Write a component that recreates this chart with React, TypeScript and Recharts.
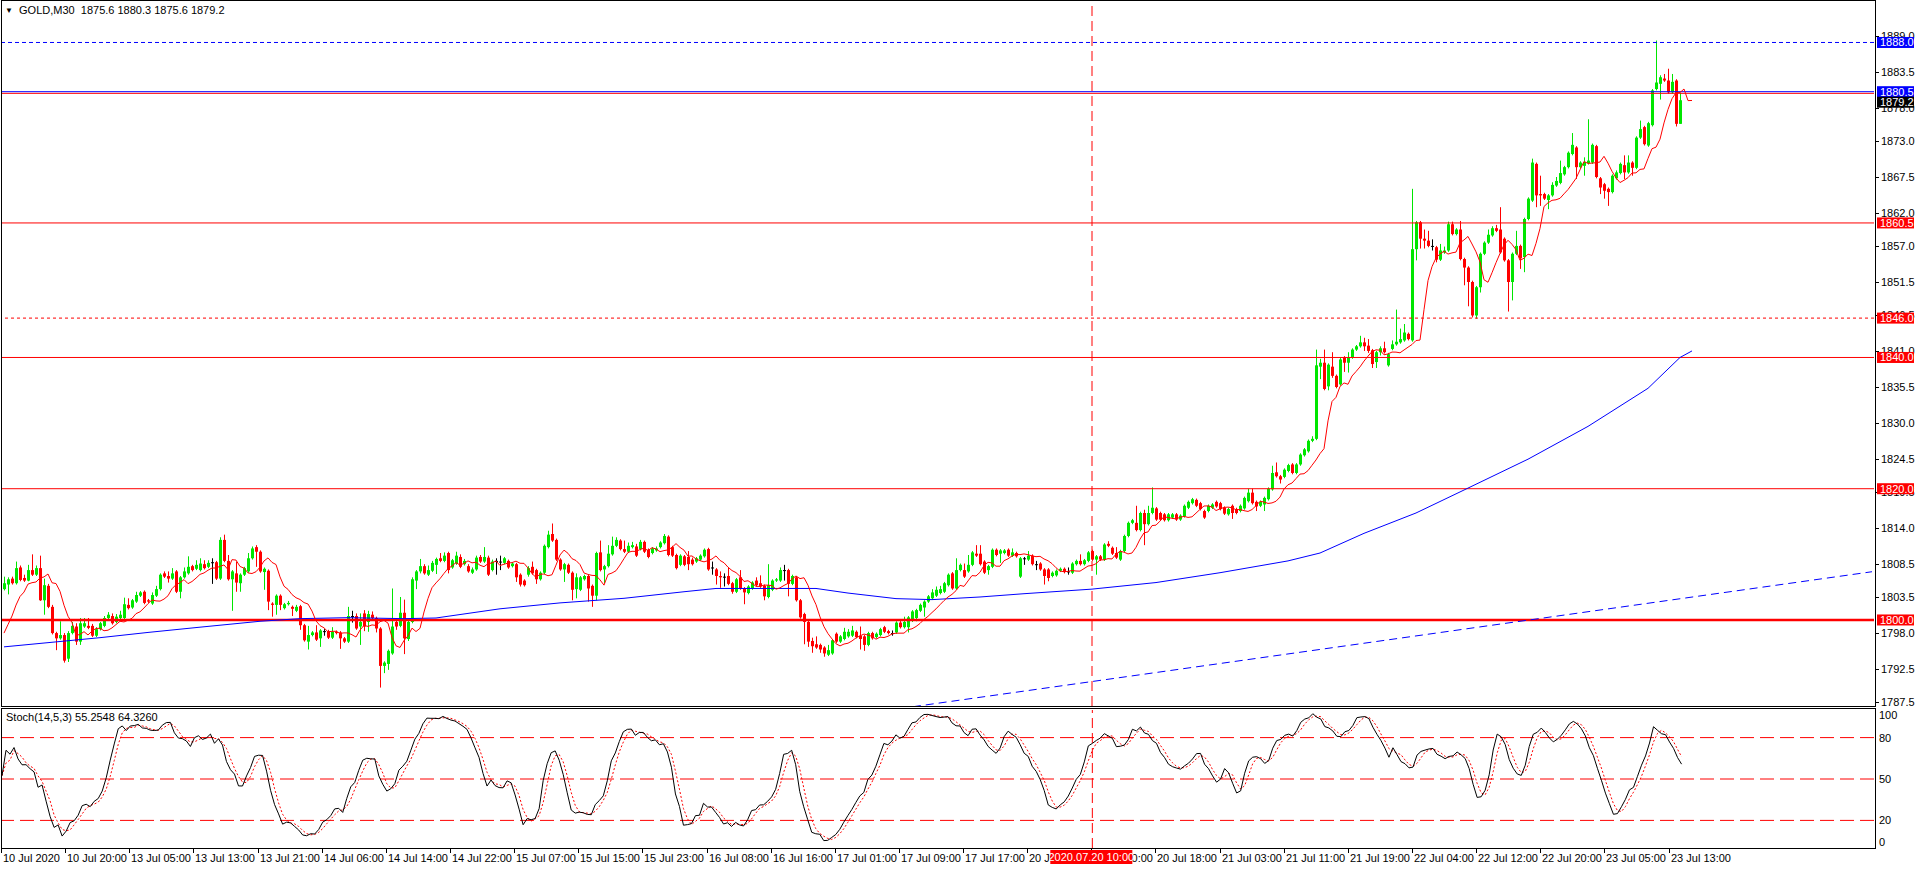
import React from 'react';
import { ComposedChart, Bar, Line, XAxis, YAxis, ReferenceLine } from 'recharts';

type C = [number, number, number, number]; // open, high, low, close

const jul10: C[] = [
  [1804.7,1806.6,1804.5,1805.6],[1805.4,1806.5,1803.9,1806.2],[1806.3,1806.6,1805.4,1805.6],[1805.6,1808.9,1805.4,1807.9],
  [1808.0,1808.3,1805.9,1806.1],[1806.4,1806.9,1805.8,1806.0],[1806.0,1808.4,1805.9,1807.6],[1807.6,1810.0,1806.7,1806.9],
  [1806.9,1808.3,1806.7,1807.9],[1807.9,1809.8,1802.9,1803.0],[1803.0,1806.3,1800.8,1805.3],[1805.2,1805.5,1801.8,1802.0],
  [1802.0,1802.3,1797.8,1798.0],[1798.0,1798.2,1795.4,1797.2],[1797.2,1799.8,1797.0,1797.7],[1797.7,1798.0,1793.5,1793.8],
  [1794.1,1798.3,1793.6,1798.0],[1798.0,1799.7,1797.8,1799.1],[1799.0,1799.5,1796.2,1796.7],[1796.7,1800.3,1796.2,1799.5],
  [1799.0,1800.3,1798.8,1799.5],[1799.1,1800.3,1798.6,1798.8],[1799.1,1799.4,1797.4,1797.6],[1797.6,1798.9,1797.4,1798.6],
];
const jul13: C[] = [
  [1798.6,1799.7,1798.4,1799.5],[1799.1,1800.6,1798.9,1800.3],[1800.3,1801.2,1800.1,1800.8],[1800.6,1801.0,1799.3,1799.5],
  [1799.7,1800.9,1799.5,1800.5],[1800.3,1801.4,1800.1,1800.8],[1800.3,1803.4,1800.1,1802.4],[1802.3,1803.3,1801.6,1801.8],
  [1801.9,1803.2,1801.7,1803.0],[1802.8,1804.3,1802.6,1803.8],[1803.7,1804.4,1803.5,1804.2],[1804.3,1804.5,1802.4,1802.6],
  [1803.0,1803.2,1802.6,1802.8],[1802.5,1804.2,1802.3,1803.8],[1803.7,1805.2,1803.5,1804.7],[1804.7,1807.1,1804.5,1806.9],
  [1807.1,1807.4,1806.4,1806.6],[1806.7,1807.4,1805.7,1806.3],[1806.3,1807.9,1806.1,1807.1],[1807.4,1807.6,1804.1,1804.3],
  [1804.3,1806.7,1803.3,1806.5],[1806.5,1808.0,1806.3,1807.4],[1807.1,1809.7,1806.9,1808.1],[1808.2,1808.4,1807.4,1807.6],
  [1807.8,1809.1,1807.6,1808.4],[1807.6,1809.4,1807.4,1808.6],[1808.5,1809.1,1807.7,1807.9],[1808.1,1809.1,1807.9,1808.7],
  [1808.8,1809.4,1805.5,1808.8],[1808.8,1809.0,1806.1,1806.3],[1806.3,1812.6,1806.1,1812.2],[1812.2,1813.0,1808.8,1809.0],
  [1809.0,1809.9,1806.0,1806.2],[1806.2,1807.6,1801.4,1807.4],[1807.1,1808.9,1804.3,1805.7],[1805.6,1807.1,1804.3,1806.9],
  [1806.9,1808.1,1806.7,1807.9],[1807.4,1810.2,1807.2,1809.4],[1809.4,1811.2,1809.2,1810.9],[1811.1,1811.4,1808.1,1810.4],
  [1810.4,1810.6,1807.2,1807.4],[1807.3,1808.0,1804.6,1807.8],[1807.5,1807.7,1801.5,1802.8],[1802.5,1802.7,1800.5,1802.3],
  [1802.3,1803.9,1800.8,1803.7],[1803.7,1803.9,1801.5,1802.3],
];
const jul14: C[] = [
  [1801.8,1802.6,1801.6,1802.4],[1802.4,1802.9,1802.2,1802.6],[1802.0,1802.2,1800.6,1801.7],[1801.4,1802.3,1801.2,1802.0],
  [1802.1,1802.3,1798.5,1799.2],[1799.2,1799.4,1796.7,1796.9],[1796.7,1799.1,1795.5,1797.7],[1797.7,1798.3,1797.5,1798.1],
  [1798.1,1799.2,1796.8,1797.0],[1797.2,1798.6,1795.9,1798.4],[1798.3,1798.6,1797.6,1798.3],[1798.3,1798.5,1797.1,1797.3],
  [1797.3,1798.9,1797.1,1798.2],[1798.2,1798.4,1797.8,1798.0],[1798.1,1798.3,1795.6,1797.2],[1797.2,1797.4,1796.5,1796.7],
  [1796.7,1802.0,1796.5,1800.6],[1800.6,1801.4,1799.6,1800.6],[1800.6,1801.0,1798.5,1798.7],[1799.0,1801.0,1796.2,1799.7],
  [1801.0,1801.5,1798.3,1799.0],[1799.7,1801.4,1798.2,1800.9],[1800.8,1801.3,1800.0,1800.3],[1800.3,1800.5,1798.1,1798.7],
  [1798.7,1798.9,1789.7,1793.0],[1793.0,1793.7,1791.9,1793.5],[1793.3,1795.5,1792.4,1795.3],[1794.9,1804.8,1794.7,1799.0],
  [1799.7,1800.2,1798.5,1799.0],[1799.1,1803.5,1798.9,1801.1],[1801.1,1803.1,1794.8,1797.2],[1797.1,1800.0,1796.8,1799.7],
  [1799.7,1806.5,1799.5,1806.2],[1806.0,1807.6,1804.7,1807.4],[1807.4,1809.3,1807.1,1808.2],[1808.2,1808.5,1806.9,1807.1],
  [1806.9,1808.3,1806.7,1807.6],[1807.5,1809.0,1807.3,1808.7],[1808.4,1809.5,1807.0,1809.3],[1809.4,1810.2,1808.8,1809.0],
  [1809.0,1810.3,1808.8,1809.8],[1810.2,1810.4,1807.1,1807.6],[1808.0,1809.3,1807.8,1809.1],[1808.6,1810.4,1808.4,1809.8],
  [1809.6,1810.0,1807.9,1808.1],[1808.5,1809.3,1808.3,1809.0],
];
const jul15: C[] = [
  [1808.2,1808.5,1807.2,1807.4],[1807.2,1808.0,1807.0,1807.7],[1807.7,1809.8,1807.5,1809.5],[1809.6,1809.9,1808.7,1808.9],
  [1808.9,1811.1,1808.7,1809.6],[1809.5,1809.8,1806.7,1806.9],[1807.6,1809.2,1807.4,1808.9],[1809.0,1809.4,1806.9,1809.0],
  [1808.9,1809.8,1807.6,1808.9],[1808.7,1809.6,1808.5,1809.4],[1809.0,1809.2,1807.8,1808.0],[1808.2,1808.8,1808.0,1808.6],
  [1808.5,1808.7,1805.8,1806.5],[1806.9,1807.1,1805.1,1805.4],[1806.0,1806.2,1805.1,1805.3],[1806.9,1808.2,1806.6,1807.9],
  [1808.1,1808.9,1806.9,1807.1],[1807.6,1807.8,1805.5,1806.2],[1806.2,1807.4,1806.0,1807.2],[1807.2,1811.5,1807.0,1811.3],
  [1811.1,1813.6,1810.9,1813.0],[1813.1,1814.7,1811.9,1812.1],[1812.2,1812.4,1809.0,1809.2],[1809.2,1809.4,1807.5,1807.7],
  [1807.7,1808.7,1805.8,1808.5],[1808.4,1808.6,1807.0,1807.2],[1807.2,1807.4,1803.0,1804.6],[1804.7,1807.1,1803.3,1806.5],
  [1804.6,1806.7,1804.4,1806.5],[1806.2,1806.9,1806.0,1806.7],[1806.7,1806.9,1802.8,1804.8],[1805.2,1805.4,1802.0,1803.7],
  [1803.7,1810.4,1803.0,1810.2],[1810.3,1812.1,1807.4,1807.6],[1807.7,1808.4,1805.6,1808.2],[1808.2,1811.4,1808.0,1810.1],
  [1810.0,1812.7,1809.8,1811.3],[1811.3,1812.6,1811.1,1812.2],[1812.1,1812.3,1810.6,1810.8],[1810.8,1812.1,1810.2,1810.4],
  [1810.4,1811.8,1810.2,1811.3],[1811.1,1811.9,1810.9,1811.4],[1811.2,1811.6,1809.6,1809.8],[1810.8,1812.2,1810.6,1811.9],
  [1811.9,1812.1,1810.2,1810.4],[1810.7,1810.9,1809.4,1809.6],
];
const jul16: C[] = [
  [1810.2,1811.1,1810.0,1810.9],[1810.6,1811.2,1810.4,1810.9],[1811.1,1812.0,1810.9,1811.8],[1811.7,1813.1,1811.5,1812.8],
  [1812.7,1812.9,1809.7,1809.9],[1811.1,1811.3,1809.6,1809.8],[1809.9,1810.1,1807.7,1807.9],[1808.4,1810.0,1808.2,1809.8],
  [1809.7,1809.9,1808.2,1808.4],[1809.6,1810.5,1807.6,1808.5],[1809.2,1809.5,1808.3,1808.5],[1808.9,1809.6,1808.7,1809.4],
  [1809.2,1810.0,1809.0,1809.8],[1809.7,1810.9,1809.5,1810.7],[1810.8,1811.0,1807.5,1807.7],[1808.0,1808.9,1806.9,1808.0],
  [1807.7,1807.9,1805.4,1806.7],[1806.7,1807.4,1804.9,1806.5],[1806.6,1807.1,1805.1,1806.6],[1806.7,1808.0,1805.3,1805.5],
  [1805.6,1805.8,1804.0,1804.3],[1804.3,1806.4,1804.1,1806.2],[1806.5,1807.6,1804.6,1804.8],[1804.8,1805.0,1802.4,1804.2],
  [1804.1,1805.3,1803.9,1805.1],[1804.8,1805.9,1804.6,1805.7],[1806.0,1806.5,1805.1,1805.3],[1805.6,1806.8,1804.9,1805.1],
  [1805.2,1805.4,1803.0,1803.6],[1803.5,1808.5,1803.3,1805.3],[1804.6,1806.2,1804.4,1806.0],[1806.0,1806.4,1805.8,1806.2],
  [1806.0,1808.0,1805.8,1807.6],[1807.6,1808.4,1806.0,1807.6],[1807.6,1807.8,1803.6,1805.5],[1805.5,1806.9,1805.3,1806.7],
  [1806.5,1806.7,1802.8,1803.0],[1803.0,1803.2,1800.2,1800.4],[1800.9,1801.1,1796.3,1799.7],[1799.7,1799.9,1795.9,1796.7],
  [1796.8,1797.3,1795.0,1796.0],[1796.3,1797.5,1795.6,1795.8],[1796.2,1796.4,1795.0,1795.5],[1795.8,1796.0,1794.4,1794.9],
  [1794.7,1796.2,1794.5,1795.4],[1794.9,1797.1,1794.7,1796.9],
];
const jul17: C[] = [
  [1797.9,1798.1,1796.5,1796.7],[1796.7,1797.7,1796.5,1797.5],[1797.1,1798.8,1796.9,1798.2],[1797.5,1798.6,1797.3,1798.2],
  [1797.6,1799.1,1797.4,1798.4],[1798.2,1798.4,1797.2,1797.4],[1797.6,1799.0,1795.5,1797.1],[1797.5,1797.7,1795.3,1796.2],
  [1796.2,1798.2,1796.0,1798.0],[1798.0,1798.2,1797.0,1797.2],[1797.4,1798.1,1797.2,1797.9],[1797.7,1798.8,1797.5,1798.6],
  [1798.9,1799.1,1798.0,1798.2],[1798.3,1798.5,1797.8,1798.0],[1798.0,1798.4,1797.6,1798.0],[1798.1,1799.8,1797.9,1799.6],
  [1799.6,1799.9,1798.7,1798.9],[1798.9,1800.5,1798.7,1799.7],[1798.9,1800.6,1798.1,1800.4],[1799.9,1801.5,1799.7,1801.3],
  [1800.3,1801.7,1799.8,1801.5],[1801.4,1802.5,1801.2,1802.3],[1801.9,1803.0,1800.5,1802.8],[1802.8,1803.8,1802.6,1803.6],
  [1803.3,1804.7,1803.1,1804.2],[1803.7,1805.1,1803.5,1804.6],[1804.1,1805.2,1803.9,1804.7],[1804.3,1805.8,1804.1,1805.6],
  [1805.3,1807.1,1805.1,1806.9],[1807.1,1807.3,1804.6,1804.8],[1804.8,1809.4,1804.6,1807.6],[1807.6,1808.6,1807.4,1808.4],
  [1807.6,1808.6,1806.4,1806.6],[1807.4,1809.9,1807.2,1808.4],[1808.4,1810.5,1808.2,1810.3],[1810.1,1811.4,1809.6,1809.8],
  [1810.1,1811.4,1808.3,1808.5],[1808.9,1809.1,1807.0,1807.2],[1807.6,1808.4,1806.9,1808.2],[1808.1,1810.9,1807.9,1810.7],
  [1810.7,1810.9,1809.7,1809.9],[1810.1,1810.8,1808.7,1810.6],[1810.2,1810.8,1810.0,1810.6],[1810.7,1810.9,1809.6,1809.8],
  [1809.8,1810.9,1809.6,1810.3],[1810.2,1810.4,1809.5,1809.7],
];
const jul20: C[] = [
  [1806.6,1809.6,1806.4,1809.4],[1809.4,1809.6,1808.4,1809.4],[1809.2,1810.5,1809.0,1809.8],[1809.8,1810.0,1808.3,1808.5],
  [1808.5,1809.0,1807.6,1808.5],[1808.6,1808.8,1807.5,1807.7],[1807.7,1807.9,1805.4,1806.7],[1807.7,1807.9,1805.9,1806.4],
  [1806.7,1807.4,1806.5,1807.2],[1806.8,1807.7,1806.6,1807.5],[1807.5,1808.0,1807.3,1807.8],[1807.8,1808.0,1807.1,1807.3],
  [1807.4,1808.0,1806.9,1807.4],[1807.2,1808.8,1807.0,1808.6],[1808.5,1809.2,1808.3,1809.0],[1809.0,1810.0,1808.3,1808.5],
  [1808.5,1809.3,1808.3,1809.1],[1809.0,1810.5,1808.8,1810.3],[1810.5,1810.7,1809.0,1809.2],[1809.2,1809.9,1806.9,1809.7],
  [1809.7,1809.9,1809.0,1809.2],[1809.2,1811.7,1809.0,1811.5],[1811.6,1812.0,1811.1,1811.3],[1811.0,1811.2,1809.9,1810.1],
  [1810.2,1811.1,1809.3,1809.5],[1809.2,1810.7,1809.0,1810.5],[1810.5,1813.0,1810.3,1812.8],[1812.8,1815.0,1812.6,1814.8],
  [1814.8,1815.4,1814.6,1815.2],[1814.8,1817.4,1813.5,1813.7],[1813.7,1816.5,1813.5,1816.3],[1816.3,1816.8,1811.4,1814.6],
  [1814.6,1817.4,1814.4,1816.3],[1816.3,1820.2,1816.1,1817.1],[1817.0,1817.2,1815.1,1815.3],[1816.3,1816.5,1815.1,1815.3],
  [1816.1,1816.3,1815.0,1815.2],[1815.2,1816.3,1815.0,1816.1],[1815.6,1816.3,1815.4,1816.1],[1816.1,1816.3,1815.1,1815.3],
  [1815.3,1816.1,1815.1,1815.9],[1815.8,1817.6,1815.6,1817.4],[1817.1,1818.2,1816.9,1818.0],[1817.8,1818.6,1817.6,1818.4],
  [1818.3,1818.5,1817.2,1817.4],[1817.8,1818.0,1816.7,1816.9],
];
const jul21: C[] = [
  [1816.6,1816.8,1815.4,1815.6],[1816.6,1817.6,1816.4,1817.4],[1817.1,1817.8,1816.9,1817.6],[1818.0,1818.2,1817.1,1817.3],
  [1817.8,1818.0,1816.7,1816.9],[1817.1,1817.3,1816.0,1816.2],[1816.1,1817.1,1815.9,1816.9],[1817.4,1817.6,1815.4,1816.3],
  [1816.9,1817.1,1816.1,1816.3],[1816.6,1817.6,1816.4,1817.4],[1817.0,1818.8,1816.8,1818.6],[1818.1,1820.0,1817.9,1819.4],
  [1819.4,1820.0,1817.6,1817.8],[1818.0,1818.2,1816.6,1817.3],[1817.4,1818.2,1817.2,1818.0],[1817.6,1818.8,1816.6,1818.6],
  [1818.4,1820.2,1818.2,1820.0],[1819.9,1823.5,1819.7,1822.4],[1822.5,1824.0,1821.7,1821.9],[1821.9,1822.1,1820.8,1821.4],
  [1821.8,1823.1,1821.6,1822.9],[1822.7,1823.8,1822.5,1823.6],[1823.7,1823.9,1822.2,1822.4],[1822.4,1823.9,1822.2,1823.7],
  [1823.7,1825.4,1823.5,1825.2],[1825.1,1826.2,1824.9,1826.0],[1825.7,1827.5,1825.5,1827.3],[1827.3,1828.0,1827.1,1827.6],
  [1827.6,1841.2,1827.4,1838.8],[1838.6,1839.8,1836.7,1839.2],[1839.2,1841.2,1835.0,1835.2],[1835.6,1839.1,1835.0,1838.9],
  [1838.6,1840.8,1836.9,1837.2],[1837.2,1837.4,1835.3,1835.5],[1835.9,1840.0,1835.7,1839.7],[1840.0,1840.2,1837.8,1839.2],
  [1839.2,1840.8,1837.7,1840.0],[1840.0,1841.4,1839.8,1841.2],[1841.2,1841.9,1841.0,1841.7],[1841.7,1843.3,1841.5,1842.3],
  [1842.3,1843.0,1841.0,1841.7],[1841.8,1842.8,1840.7,1841.0],[1841.1,1841.3,1838.4,1839.0],[1839.3,1841.0,1838.4,1840.8],
  [1840.8,1841.7,1840.3,1841.4],[1841.4,1842.4,1840.6,1840.8],
];
const jul22: C[] = [
  [1838.8,1840.7,1838.6,1840.5],[1841.3,1842.6,1841.1,1842.0],[1842.0,1847.3,1841.8,1842.4],[1842.3,1844.4,1842.1,1842.8],
  [1842.6,1845.1,1842.4,1843.8],[1843.6,1843.8,1842.6,1842.8],[1842.6,1865.7,1842.4,1856.5],[1856.5,1860.8,1854.8,1860.6],
  [1860.6,1860.8,1856.6,1858.1],[1858.1,1859.5,1856.6,1857.8],[1857.8,1859.3,1856.8,1857.0],[1857.0,1858.0,1856.3,1857.0],
  [1856.8,1857.0,1854.5,1854.9],[1854.9,1857.3,1854.7,1856.3],[1856.0,1856.9,1855.8,1856.3],[1856.3,1860.7,1856.1,1860.3],
  [1860.3,1860.7,1858.6,1858.8],[1858.8,1859.7,1858.6,1859.5],[1859.5,1860.8,1854.8,1855.0],[1855.0,1855.2,1851.0,1853.7],
  [1853.7,1853.9,1847.8,1851.5],[1851.5,1851.7,1846.1,1846.4],[1846.4,1850.9,1845.9,1850.7],[1850.7,1856.0,1849.9,1855.8],
  [1855.8,1857.7,1855.6,1857.5],[1857.5,1859.5,1857.3,1858.7],[1858.6,1860.0,1858.4,1859.7],[1859.7,1860.2,1859.1,1859.3],
  [1859.5,1862.9,1855.8,1856.0],[1858.1,1858.3,1854.6,1854.8],[1854.8,1855.0,1847.0,1851.5],[1851.5,1856.0,1848.7,1855.8],
  [1855.8,1859.3,1855.6,1857.0],[1857.0,1857.2,1853.5,1855.1],[1855.3,1861.3,1853.0,1861.1],[1861.1,1864.4,1860.9,1864.2],
  [1863.9,1870.3,1863.7,1869.7],[1869.5,1869.7,1862.9,1864.7],[1864.9,1867.7,1863.1,1864.7],[1864.9,1865.1,1864.0,1864.2],
  [1864.0,1864.9,1862.6,1864.7],[1864.7,1866.7,1864.5,1866.3],[1866.2,1867.5,1866.0,1866.9],[1866.6,1870.0,1866.4,1868.1],
  [1867.9,1869.2,1867.7,1869.0],[1869.0,1871.4,1868.8,1871.2],
];
const jul23: C[] = [
  [1871.0,1874.2,1870.8,1872.4],[1872.0,1872.2,1867.2,1869.0],[1869.0,1869.9,1868.8,1869.7],[1869.2,1870.5,1867.7,1869.8],
  [1869.6,1876.3,1869.4,1870.0],[1869.7,1872.6,1869.5,1872.4],[1872.2,1872.4,1867.3,1867.5],[1867.3,1867.5,1864.9,1865.9],
  [1866.4,1866.6,1864.2,1865.4],[1865.7,1865.9,1863.1,1865.2],[1865.2,1867.9,1865.0,1867.7],[1867.3,1868.5,1867.1,1868.2],
  [1868.1,1869.7,1867.9,1869.5],[1869.3,1870.8,1867.2,1868.2],[1868.2,1870.8,1868.0,1869.7],[1869.7,1869.9,1867.7,1868.9],
  [1868.9,1873.7,1868.7,1873.5],[1873.5,1876.1,1873.3,1874.8],[1875.1,1875.3,1872.3,1872.5],[1872.3,1875.9,1872.1,1875.7],
  [1875.4,1880.9,1875.2,1880.7],[1880.9,1888.3,1880.7,1881.9],[1881.7,1883.0,1879.3,1882.7],[1882.5,1883.2,1882.0,1882.2],
  [1882.2,1884.0,1880.2,1880.4],[1880.4,1883.2,1880.2,1882.0],[1882.2,1882.4,1875.2,1875.6],[1875.6,1880.3,1875.6,1879.2],
];

// slow blue moving average: [bar index, price]
const blueMa: [number, number][] = [
  [0,1795.9],[12,1796.6],[24,1797.3],[36,1798.1],[49,1798.9],[64,1799.8],[74,1800.2],[86,1800.35],[100,1800.2],
  [108,1800.3],[124,1801.7],[139,1802.6],[155,1803.3],[170,1804.3],[178,1804.8],[203,1804.8],[211,1804.1],
  [223,1803.25],[232,1803.1],[244,1803.5],[255,1804.0],[272,1804.7],[288,1805.7],[304,1807.2],[321,1809.0],
  [329,1810.2],[340,1813.2],[353,1816.3],[365,1819.8],[381,1824.5],[396,1829.5],[411,1835.3],[419,1840.0],[422,1841.0],
];
// red EMA(5) shifted 3 bars: the first three shown values come from history before the chart
const emaSeed = [1798.0, 1799.3, 1800.6];
const emaPeriod = 5;
const emaShift = 3;

const trendLine = [{ i: 224, p: 1786.5 }, { i: 467, p: 1807.35 }];

const priceTicks = [1889.0,1883.5,1878.0,1873.0,1867.5,1862.0,1857.0,1851.5,1846.5,1841.0,1835.5,1830.0,1824.5,1819.5,1814.0,1808.5,1803.5,1798.0,1792.5,1787.5];
const blueSolidLevels = [1880.5];
const blueDashLevels = [1888.0];
const redSolidLevels = [1880.25, 1860.5, 1840.0, 1820.0];
const redDashLevels = [1846.0];
const redThickLevels = [1800.0];
const priceTags: { v: number; color: string }[] = [
  { v: 1888.0, color: '#0000ff' }, { v: 1880.5, color: '#0000ff' }, { v: 1860.5, color: '#ff0000' },
  { v: 1846.0, color: '#ff0000' }, { v: 1840.0, color: '#ff0000' }, { v: 1820.0, color: '#ff0000' },
  { v: 1800.0, color: '#ff0000' }, { v: 1879.2, color: '#000000' },
];
const bidPrice = 1879.2;

const timeLabels = [
  '10 Jul 2020','10 Jul 20:00','13 Jul 05:00','13 Jul 13:00','13 Jul 21:00','14 Jul 06:00','14 Jul 14:00',
  '14 Jul 22:00','15 Jul 07:00','15 Jul 15:00','15 Jul 23:00','16 Jul 08:00','16 Jul 16:00','17 Jul 01:00',
  '17 Jul 09:00','17 Jul 17:00','20 Jul 02:00','20 Jul 10:00','20 Jul 18:00','21 Jul 03:00','21 Jul 11:00',
  '21 Jul 19:00','22 Jul 04:00','22 Jul 12:00','22 Jul 20:00','23 Jul 05:00','23 Jul 13:00',
];
const labelStep = 16;
const cursorBar = 272;
const cursorLabel = '2020.07.20 10:00';
const stochTicks = [0, 20, 50, 80, 100];
const stochLevels = [80, 50, 20];
const SLOTS = 468;

const headerText = 'GOLD,M30  1875.6 1880.3 1875.6 1879.2';
const stochText = 'Stoch(14,5,3) 55.2548 64.3260';

// ---------- derived series ----------
const candles: C[] = [jul10, jul13, jul14, jul15, jul16, jul17, jul20, jul21, jul22, jul23].flat();

const ema: number[] = [];
{
  let prev = emaSeed[emaSeed.length - 1];
  const a = 2 / (emaPeriod + 1);
  for (const c of candles) { prev = prev + a * (c[3] - prev); ema.push(prev); }
}
const kMain: number[] = [];
const kSig: number[] = [];
{
  const nums: number[] = [], dens: number[] = [];
  candles.forEach((c, i) => {
    let ll = Infinity, hh = -Infinity;
    for (let j = Math.max(0, i - 13); j <= i; j++) { ll = Math.min(ll, candles[j][2]); hh = Math.max(hh, candles[j][1]); }
    nums.push(c[3] - ll); dens.push(hh - ll);
    let sn = 0, sd = 0;
    for (let j = Math.max(0, i - 4); j <= i; j++) { sn += nums[j]; sd += dens[j]; }
    kMain.push(sd > 0 ? (100 * sn) / sd : 50);
  });
  kMain.forEach((_, i) => {
    const f = Math.max(0, i - 2);
    let s = 0;
    for (let j = f; j <= i; j++) s += kMain[j];
    kSig.push(s / (i - f + 1));
  });
}

const rows: any[] = Array.from({ length: SLOTS }, (_, i) => {
  const r: any = { i };
  const c = candles[i];
  if (c) {
    r.o = c[0]; r.h = c[1]; r.l = c[2]; r.c = c[3];
    r.range = [c[2], c[1]];
    r.k = kMain[i]; r.d = kSig[i];
  }
  if (i < emaShift) r.ma = emaSeed[i];
  else if (i - emaShift < ema.length) r.ma = ema[i - emaShift];
  return r;
});
blueMa.forEach(([i, v]) => { rows[i].bma = v; });

// ---------- rendering ----------
const FONT = "'Liberation Sans Narrow', 'Liberation Sans', Arial, sans-serif";
const GREEN = '#00e600';
const RED = '#ff0000';
const AXIS_X = 1875;
const W = 1916;

const Candle = (props: any) => {
  const { x, width, payload } = props;
  let { y, height } = props;
  if (!payload || payload.o == null || y == null || isNaN(y)) return <g />;
  if (height < 0) { y += height; height = -height; }
  const { o, h, l, c } = payload;
  const span = h - l;
  const py = (v: number) => (span > 0 ? y + ((h - v) / span) * height : y);
  const color = c > o ? GREEN : c < o ? RED : '#000000';
  const cx = Math.round(x + width / 2) - 1;
  const top = py(Math.max(o, c));
  const bot = py(Math.min(o, c));
  return (
    <g>
      <rect x={cx} y={y} width={1} height={Math.max(height, 1)} fill={color} />
      <rect x={cx - 1} y={top} width={3} height={Math.max(bot - top, 1)} fill={color} />
    </g>
  );
};

const tagMap = new Map(priceTags.map((t) => [t.v.toFixed(2), t.color]));

const PriceTick = (props: any) => {
  const { payload } = props;
  let y = props.y;
  const v: number = payload.value;
  const color = tagMap.get(v.toFixed(2));
  if (color) {
    if (v === bidPrice) y += 2;
    return (
      <g>
        <rect x={AXIS_X + 2} y={y - 5.5} width={37} height={11} fill={color} />
        <text x={AXIS_X + 5} y={y} dominantBaseline="central" fill="#ffffff" fontSize={11} fontFamily={FONT}>{v.toFixed(1)}</text>
      </g>
    );
  }
  return (
    <g>
      <line x1={AXIS_X} x2={AXIS_X + 4} y1={Math.round(y) + 0.5} y2={Math.round(y) + 0.5} stroke="#000" />
      <text x={AXIS_X + 6} y={y} dominantBaseline="central" fill="#000" fontSize={11} fontFamily={FONT}>{v.toFixed(1)}</text>
    </g>
  );
};

const StochTick = (props: any) => {
  const v: number = props.payload.value;
  let y = props.y;
  if (v === 100) y += 5;
  if (v === 0) y -= 6;
  return (
    <text x={AXIS_X + 4} y={y} dominantBaseline="central" fill="#000" fontSize={11} fontFamily={FONT}>{v}</text>
  );
};

const STOCH_AXIS_Y = 139;
const TimeTick = (props: any) => {
  const { x, payload } = props;
  const i: number = payload.value;
  const xx = Math.round(x) - 1;
  const normal = (
    <g>
      <line x1={xx + 0.5} x2={xx + 0.5} y1={STOCH_AXIS_Y} y2={STOCH_AXIS_Y + 5} stroke="#000" />
      <text x={xx + 2} y={STOCH_AXIS_Y + 10} dominantBaseline="central" fill="#000" fontSize={11} fontFamily={FONT}>{timeLabels[i / labelStep]}</text>
    </g>
  );
  if (i === cursorBar) {
    return (
      <g>
        {normal}
        <rect x={x - 42} y={STOCH_AXIS_Y + 2} width={82} height={14} fill={RED} />
        <text x={x - 1} y={STOCH_AXIS_Y + 9} textAnchor="middle" dominantBaseline="central" fill="#fff" fontSize={11} fontFamily={FONT}>{cursorLabel}</text>
      </g>
    );
  }
  return normal;
};

const timeTicks = timeLabels.map((_, k) => k * labelStep).filter((t) => t !== cursorBar).concat([cursorBar]);
const mainTicks = [...priceTicks, ...priceTags.map((t) => t.v)];

export default function App() {
  return (
    <div style={{ position: 'absolute', left: 0, top: 0, width: W, height: 869, background: '#fff', fontFamily: FONT }}>
      <div style={{ position: 'absolute', left: 0, top: 0 }}>
        <ComposedChart width={W} height={713} data={rows} margin={{ top: 1, right: 0, bottom: 7, left: 2 }}>
          <XAxis dataKey="i" type="category" hide padding={{ left: 0, right: 0 }} />
          <YAxis
            orientation="right"
            width={42}
            domain={[1786.89, 1894.32]}
            allowDataOverflow
            ticks={mainTicks}
            interval={0}
            axisLine={false}
            tickLine={false}
            tick={(p: any) => <PriceTick {...p} />}
          />
          {redThickLevels.map((v) => <ReferenceLine key={'rt' + v} y={v} stroke={RED} strokeWidth={2.5} />)}
          {redSolidLevels.map((v) => <ReferenceLine key={'rs' + v} y={v} stroke={RED} strokeWidth={1} />)}
          {redDashLevels.map((v) => <ReferenceLine key={'rd' + v} y={v} stroke={RED} strokeDasharray="3 3" />)}
          {blueSolidLevels.map((v) => <ReferenceLine key={'bs' + v} y={v} stroke="#0000ff" />)}
          {blueDashLevels.map((v) => <ReferenceLine key={'bd' + v} y={v} stroke="#0000ff" strokeDasharray="4 3" />)}
          <ReferenceLine x={cursorBar} stroke={RED} strokeDasharray="10 5" />
          <ReferenceLine
            segment={[{ x: trendLine[0].i, y: trendLine[0].p }, { x: trendLine[1].i, y: trendLine[1].p }]}
            stroke="#0000ff"
            strokeDasharray="8 5"
            ifOverflow="hidden"
          />
          <Line dataKey="bma" stroke="#0000ff" strokeWidth={1} dot={false} connectNulls isAnimationActive={false} type="linear" />
          <Bar dataKey="range" barSize={3} shape={(p: any) => <Candle {...p} />} isAnimationActive={false} />
          <Line dataKey="ma" stroke={RED} strokeWidth={1} dot={false} isAnimationActive={false} type="linear" />
        </ComposedChart>
      </div>
      <div style={{ position: 'absolute', left: 0, top: 709 }}>
        <ComposedChart width={W} height={160} data={rows} margin={{ top: 1, right: 0, bottom: 0, left: 2 }}>
          <XAxis
            dataKey="i"
            type="category"
            height={21}
            ticks={timeTicks}
            interval={0}
            axisLine={false}
            tickLine={false}
            tick={(p: any) => <TimeTick {...p} />}
            padding={{ left: 0, right: 0 }}
          />
          <YAxis
            orientation="right"
            width={42}
            domain={[0, 100]}
            allowDataOverflow
            ticks={stochTicks}
            interval={0}
            axisLine={false}
            tickLine={false}
            tick={(p: any) => <StochTick {...p} />}
          />
          {stochLevels.map((v) => <ReferenceLine key={'s' + v} y={v} stroke={RED} strokeDasharray="14 6" />)}
          <ReferenceLine x={cursorBar} stroke={RED} strokeDasharray="10 5" />
          <Line dataKey="d" stroke={RED} strokeWidth={1} strokeDasharray="2 2" dot={false} isAnimationActive={false} type="linear" />
          <Line dataKey="k" stroke="#000000" strokeWidth={1} dot={false} isAnimationActive={false} type="linear" />
        </ComposedChart>
      </div>
      <div style={{ position: 'absolute', left: 1, top: 0, width: 1875, height: 707, border: '1px solid #000', boxSizing: 'border-box', pointerEvents: 'none' }} />
      <div style={{ position: 'absolute', left: 1, top: 708, width: 1875, height: 141, border: '1px solid #000', boxSizing: 'border-box', pointerEvents: 'none' }} />
      <div style={{ position: 'absolute', left: 5, top: 4, fontSize: 11, lineHeight: '13px', whiteSpace: 'pre', color: '#000' }}>
        <span style={{ fontSize: 8, verticalAlign: 1 }}>▼</span>{'  ' + headerText}
      </div>
      <div style={{ position: 'absolute', left: 6, top: 711, fontSize: 11, lineHeight: '13px', whiteSpace: 'pre', color: '#000' }}>
        {stochText}
      </div>
    </div>
  );
}
